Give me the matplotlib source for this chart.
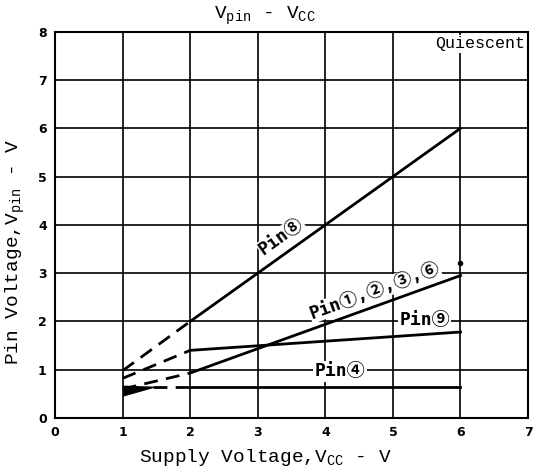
import matplotlib.pyplot as plt
import numpy as np

# values
vcc_meas = [2, 6]            # solid (measured) part
vcc_ext = [1, 2]             # dashed (extrapolated) part
pin8 = [2.0, 6.0]
pin8_ext = [0.98, 2.0]
pin1236 = [0.93, 2.95]
pin1236_ext = [0.6, 0.93]
pin9 = [1.4, 1.78]
pin9_ext = [0.82, 1.4]
pin4 = [0.64, 0.64]
pin4_vcc_ext = [1.45, 2]
pin4_ext = [0.64, 0.64]
pin4_wedge_x = [1.0, 1.45]
pin4_wedge_lo = [0.45, 0.63]
pin4_wedge_hi = [0.68, 0.66]

mono = ['Liberation Mono', 'Noto Sans CJK JP', 'DejaVu Sans Mono']
circ = ['DejaVu Sans Mono', 'Noto Sans CJK JP']
plt.rcParams['font.family'] = mono
plt.rcParams['mathtext.fontset'] = 'custom'
plt.rcParams['mathtext.rm'] = 'Liberation Mono'
plt.rcParams['mathtext.it'] = 'Liberation Mono'

fig = plt.figure(figsize=(5.35, 4.68), dpi=100)
ax = fig.add_axes([0.103, 0.107, 0.884, 0.825])

lw = 2.0
ax.plot(vcc_meas, pin8, color='black', lw=lw)
ax.plot(vcc_ext, pin8_ext, color='black', lw=lw, ls=(0, (5, 3)))
ax.plot(vcc_meas, pin1236, color='black', lw=lw)
ax.plot(vcc_ext, pin1236_ext, color='black', lw=lw, ls=(0, (5, 3)))
ax.plot(vcc_meas, pin9, color='black', lw=lw)
ax.plot(vcc_ext, pin9_ext, color='black', lw=lw, ls=(0, (5, 3)))
ax.plot(vcc_meas, pin4, color='black', lw=lw)
ax.plot(pin4_vcc_ext, pin4_ext, color='black', lw=lw, ls=(0, (5, 3)))
ax.fill_between(pin4_wedge_x, pin4_wedge_lo, pin4_wedge_hi, color='black', lw=0)
ax.plot([6], [3.2], 'o', color='black', ms=3)

ax.set_xlim(0, 7)
ax.set_ylim(0, 8)
ax.set_xticks(range(8))
ax.set_yticks(range(9))
ax.grid(True, color='black', lw=1.2)
ax.set_axisbelow(True)
for s in ax.spines.values():
    s.set_linewidth(1.5)
ax.tick_params(length=0, labelsize=9, pad=6)
for t in ax.get_xticklabels() + ax.get_yticklabels():
    t.set_fontweight('bold')
    t.set_family('DejaVu Sans')

ax.set_xlabel('Supply Voltage,V$_{CC}$ - V', fontsize=14, labelpad=0)
ax.xaxis.set_label_coords(0.445, -0.075)
ax.set_ylabel('Pin Voltage,V$_{pin}$ - V', fontsize=14, labelpad=0)
ax.yaxis.set_label_coords(-0.06, 0.43)
fig.text(0.495, 0.965, 'V$_{pin}$ - V$_{CC}$', fontsize=14, ha='center', va='center')

ax.text(6.95, 7.75, 'Quiescent', fontsize=12, ha='right', va='center',
        bbox=dict(facecolor='white', edgecolor='none', pad=1))

lab = dict(fontsize=13, fontweight='bold', family=circ, ha='center', va='center')
ax.text(3.35, 3.75, 'Pin⑧', rotation=36, **lab,
        bbox=dict(facecolor='white', edgecolor='none', pad=0.5))
ax.text(4.73, 2.63, 'Pin①,②,③,⑥', rotation=20, **lab,
        bbox=dict(facecolor='white', edgecolor='none', pad=0.5))
ax.text(5.47, 2.03, 'Pin⑨', **lab,
        bbox=dict(facecolor='white', edgecolor='none', pad=1))
ax.text(4.22, 0.97, 'Pin④', **lab,
        bbox=dict(facecolor='white', edgecolor='none', pad=1))

fig.savefig('out.png', dpi=100)
